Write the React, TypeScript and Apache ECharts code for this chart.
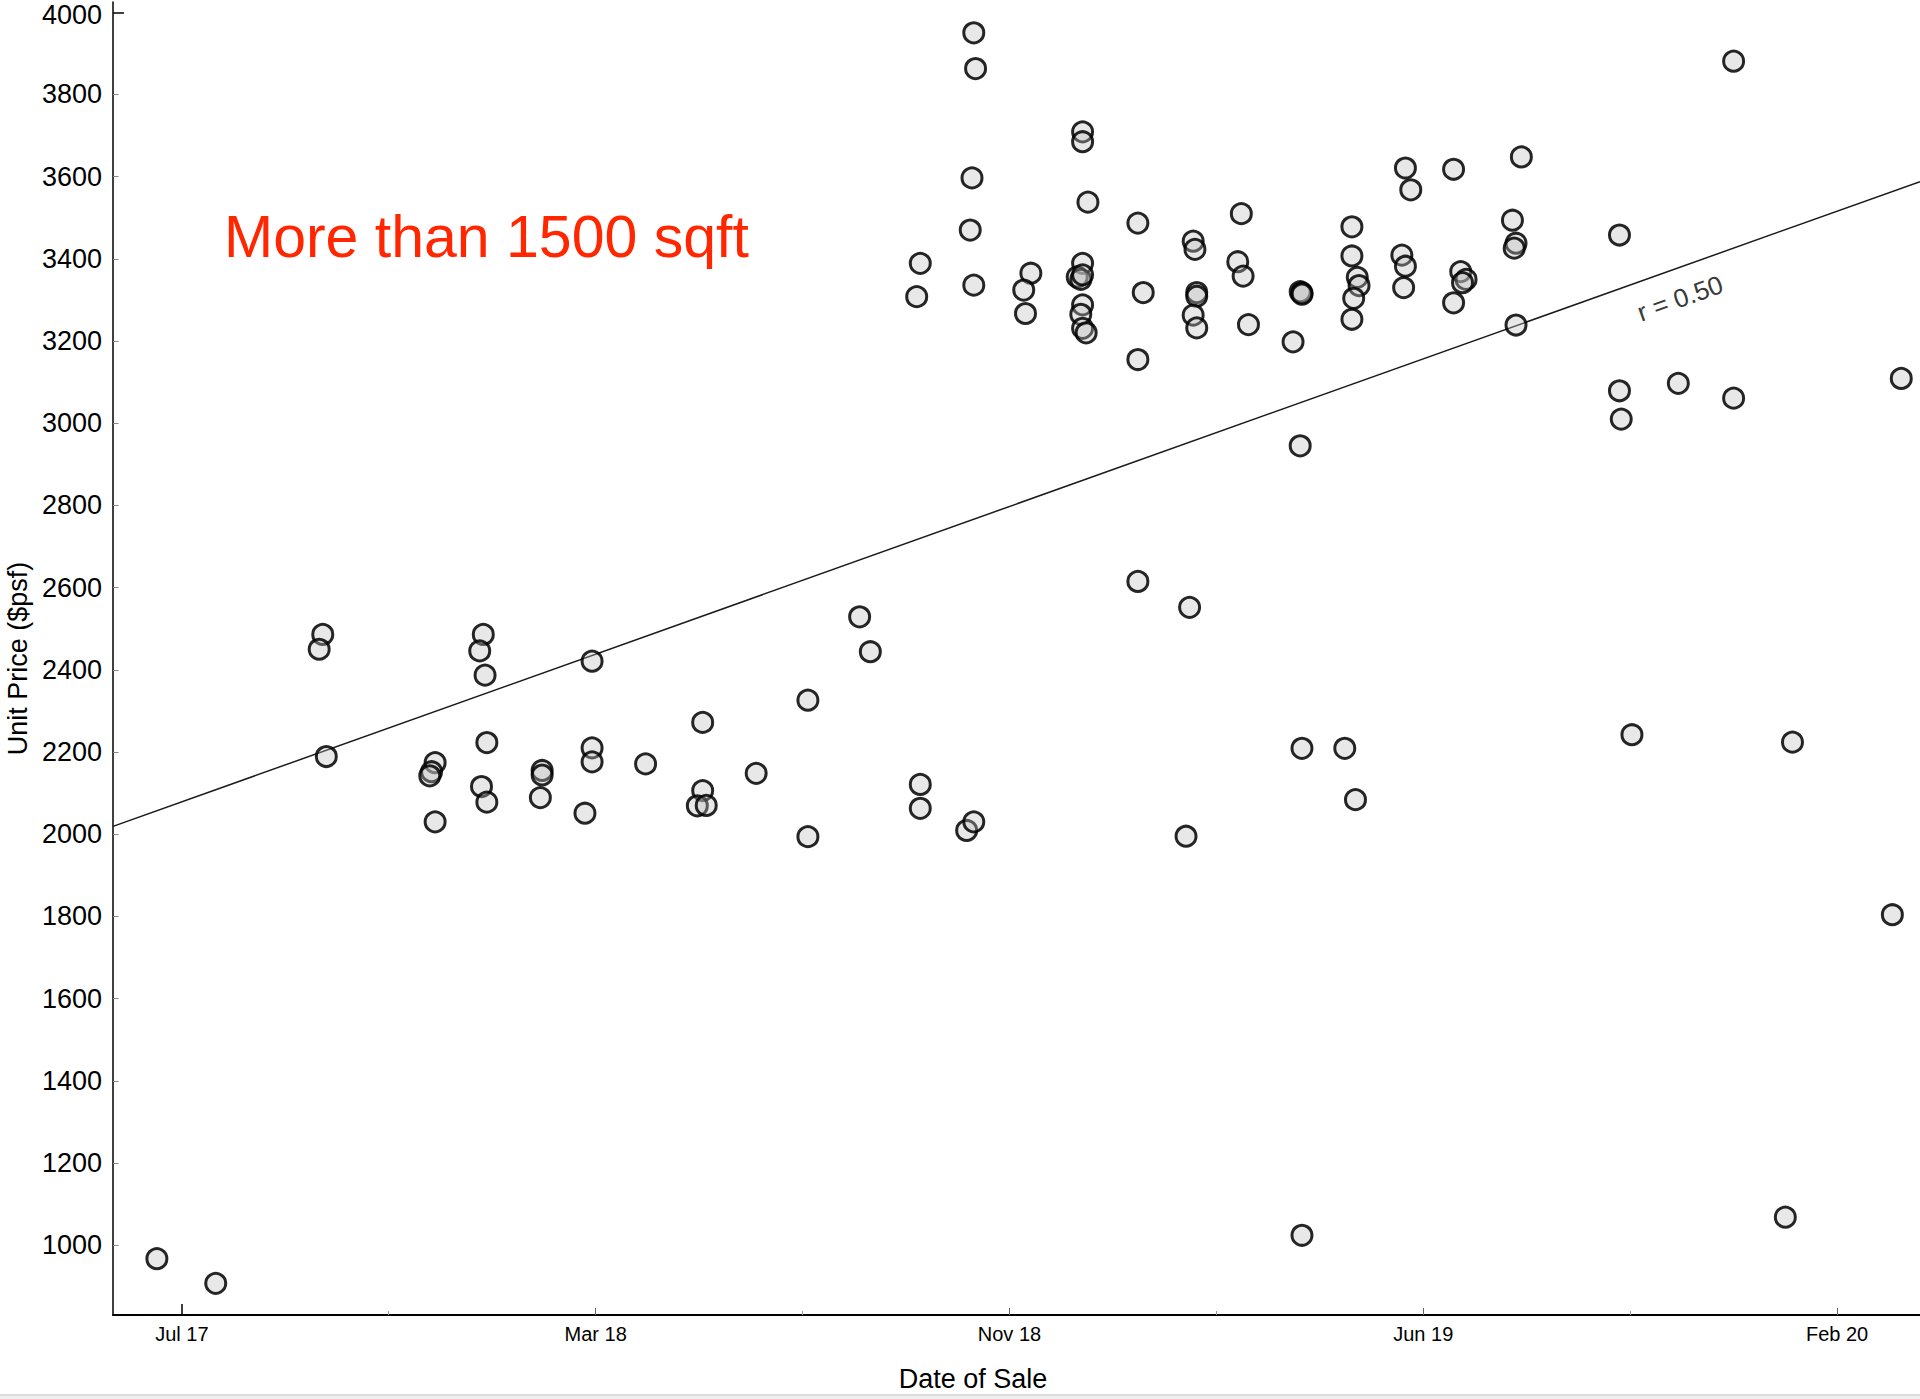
import React, { useEffect, useRef } from "react";
import * as echarts from "echarts";

// ---- Data ----
const saleDates: string[] = [
  "2017-07-14", "2017-08-16",
  "2017-10-15", "2017-10-13", "2017-10-17",
  "2017-12-17", "2017-12-15", "2017-12-14", "2017-12-17",
  "2018-01-13", "2018-01-11", "2018-01-14", "2018-01-15", "2018-01-12", "2018-01-15",
  "2018-02-15", "2018-02-15", "2018-02-14",
  "2018-03-11", "2018-03-15", "2018-03-15", "2018-03-15",
  "2018-04-14",
  "2018-05-16", "2018-05-16", "2018-05-13", "2018-05-18",
  "2018-06-15",
  "2018-07-14", "2018-07-14",
  "2018-08-12", "2018-08-18",
  "2018-09-15", "2018-09-13", "2018-09-15", "2018-09-15",
  "2018-10-11", "2018-10-15",
  "2018-10-15", "2018-10-16", "2018-10-14", "2018-10-13", "2018-10-15",
  "2018-11-16", "2018-11-12", "2018-11-13",
  "2018-12-15", "2018-12-15", "2018-12-18", "2018-12-15", "2018-12-12", "2018-12-14",
  "2018-12-15", "2018-12-15", "2018-12-14", "2018-12-15", "2018-12-17",
  "2019-01-15", "2019-01-18", "2019-01-15", "2019-01-15",
  "2019-02-15", "2019-02-16", "2019-02-17", "2019-02-17", "2019-02-15", "2019-02-17",
  "2019-02-13", "2019-02-11",
  "2019-03-14", "2019-03-12", "2019-03-15", "2019-03-18",
  "2019-04-12", "2019-04-16", "2019-04-17", "2019-04-17",
  "2019-04-16", "2019-04-17", "2019-04-17",
  "2019-05-15", "2019-05-15", "2019-05-18", "2019-05-19", "2019-05-16", "2019-05-15",
  "2019-05-11", "2019-05-17",
  "2019-06-14", "2019-06-17", "2019-06-12", "2019-06-14", "2019-06-13",
  "2019-07-11", "2019-07-15", "2019-07-18", "2019-07-16", "2019-07-11",
  "2019-08-18", "2019-08-13", "2019-08-15", "2019-08-14", "2019-08-15",
  "2019-10-12", "2019-10-12", "2019-10-13", "2019-10-19",
  "2019-11-14",
  "2019-12-15", "2019-12-15",
  "2020-01-17", "2020-01-13",
  "2020-03-18", "2020-03-13",
];

const unitPrices: number[] = [
  967, 907,
  2486, 2450, 2189,
  2174, 2152, 2142, 2030,
  2486, 2446, 2387, 2223, 2116, 2078,
  2155, 2144, 2089,
  2051, 2421, 2210, 2176,
  2171,
  2272, 2106, 2069, 2070,
  2148,
  2326, 1994,
  2529, 2444,
  3389, 3308, 2121, 2063,
  2009, 2030,
  3950, 3863, 3597, 3470, 3336,
  3365, 3324, 3267,
  3709, 3685, 3538, 3389, 3356, 3350,
  3361, 3288, 3265, 3231, 3220,
  3487, 3318, 3155, 2615,
  3443, 3423, 3318, 3309, 3263, 3232,
  2552, 1995,
  3510, 3393, 3358, 3240,
  3198, 3320, 3317, 3314,
  2945, 2209, 1024,
  3478, 3407, 3355, 3335, 3304, 3253,
  2209, 2084,
  3621, 3568, 3409, 3382, 3330,
  3618, 3369, 3350, 3342, 3293,
  3648, 3494, 3438, 3426, 3239,
  3458, 3079, 3010, 2242,
  3097,
  3881, 3061,
  2224, 1068,
  3109, 1804,
];

const majorTickDates = ["2017-07-28", "2018-03-17", "2018-11-04", "2019-06-24", "2020-02-11"];
const minorTickDates = ["2017-11-21", "2018-07-11", "2019-02-28", "2019-10-18"];
const priceTicks = [1000, 1200, 1400, 1600, 1800, 2000, 2200, 2400, 2600, 2800, 3000, 3200, 3400, 3600, 3800, 4000];
const dateRange = ["2017-06-19T09:36:00Z", "2020-03-28T12:00:00Z"];
const priceRange = [830, 4025];
const trendPrices = [2019, 3588];
const rLabelText = "r = 0.50";
const rLabelAt: [string, number] = ["2019-11-15", 3304];
const chartTitle = "More than 1500 sqft";
const xTitle = "Date of Sale";
const yTitle = "Unit Price ($psf)";
const MONTHS = ["Jan", "Feb", "Mar", "Apr", "May", "Jun", "Jul", "Aug", "Sep", "Oct", "Nov", "Dec"];

const FONT = '"Liberation Sans", Arial, Helvetica, sans-serif';

const toMs = (s: string) => new Date(s.length === 10 ? s + "T00:00:00Z" : s).getTime();
const fmtDate = (v: number) => {
  const d = new Date(v);
  return MONTHS[d.getUTCMonth()] + " " + String(d.getUTCFullYear()).slice(2);
};

export default function App() {
  const ref = useRef<HTMLDivElement>(null);

  useEffect(() => {
    if (!ref.current) return;
    const chart = echarts.init(ref.current, null, { renderer: "svg" });

    const xMin = toMs(dateRange[0]);
    const xMax = toMs(dateRange[1]);
    const majorMs = majorTickDates.map(toMs);
    const minorMs = minorTickDates.map(toMs);
    const points = saleDates.map((d, i) => [toMs(d), unitPrices[i]]);
    const trend = [
      [xMin, trendPrices[0]],
      [xMax, trendPrices[1]],
    ];
    const topTick = priceTicks[priceTicks.length - 1];

    const baseX = {
      type: "value",
      min: xMin,
      max: xMax,
      position: "bottom",
      splitLine: { show: false },
    };
    const baseY = {
      type: "value",
      min: priceRange[0],
      max: priceRange[1],
      position: "left",
      splitLine: { show: false },
    };

    const option: any = {
      animation: false,
      backgroundColor: "#ffffff",
      textStyle: { fontFamily: FONT },
      grid: { left: 113, right: 0, top: 2, bottom: 84, outerBoundsMode: "none" },
      xAxis: [
        {
          ...baseX,
          axisLine: { show: true, onZero: false, lineStyle: { color: "#000", width: 2 } },
          axisTick: {
            show: true,
            inside: true,
            length: 7,
            customValues: majorMs.slice(1),
            lineStyle: { color: "#666", width: 1 },
          },
          axisLabel: {
            show: true,
            customValues: majorMs,
            formatter: (v: number) => fmtDate(v),
            fontSize: 20,
            color: "#000",
            margin: 9,
            fontFamily: FONT,
          },
          name: xTitle,
          nameLocation: "middle",
          nameGap: 50,
          nameTextStyle: { fontSize: 27, color: "#000", fontFamily: FONT, padding: [0, 87, 0, 0] },
        },
        {
          ...baseX,
          axisLine: { show: false, onZero: false },
          axisTick: {
            show: true,
            inside: true,
            length: 4,
            customValues: minorMs,
            lineStyle: { color: "#999", width: 1 },
          },
          axisLabel: { show: false },
        },
        {
          ...baseX,
          axisLine: { show: false, onZero: false },
          axisTick: {
            show: true,
            inside: true,
            length: 11,
            customValues: majorMs.slice(0, 1),
            lineStyle: { color: "#000", width: 1.5 },
          },
          axisLabel: { show: false },
        },
      ],
      yAxis: [
        {
          ...baseY,
          axisLine: { show: true, onZero: false, lineStyle: { color: "#000", width: 1.5 } },
          axisTick: {
            show: true,
            inside: true,
            length: 5.5,
            customValues: priceTicks.slice(0, -1),
            lineStyle: { color: "#888", width: 1 },
          },
          axisLabel: {
            show: true,
            customValues: priceTicks,
            formatter: (v: number) => (v === topTick ? "{top|" + v + "}" : String(v)),
            rich: {
              top: { fontSize: 27, fontFamily: FONT, color: "#000", padding: [6, 0, 0, 0] },
            },
            fontSize: 27,
            lineHeight: 22,
            color: "#000",
            margin: 11,
            fontFamily: FONT,
          },
          name: yTitle,
          nameLocation: "middle",
          nameGap: 80,
          nameRotate: 90,
          nameTextStyle: { fontSize: 27, lineHeight: 26, color: "#000", fontFamily: FONT },
        },
        {
          ...baseY,
          axisLine: { show: false, onZero: false },
          axisTick: {
            show: true,
            inside: true,
            length: 11,
            customValues: priceTicks.slice(-1),
            lineStyle: { color: "#000", width: 1.5 },
          },
          axisLabel: { show: false },
        },
      ],
      series: [
        {
          type: "line",
          xAxisIndex: 0,
          yAxisIndex: 0,
          data: trend,
          symbol: "none",
          silent: true,
          lineStyle: { color: "#1a1a1a", width: 1.5 },
          z: 1,
        },
        {
          type: "scatter",
          xAxisIndex: 0,
          yAxisIndex: 0,
          data: points,
          symbol: "circle",
          symbolSize: 20,
          itemStyle: {
            color: "rgba(190,190,190,0.35)",
            borderColor: "rgba(0,0,0,0.85)",
            borderWidth: 3,
            opacity: 1,
          },
          emphasis: { disabled: true },
          z: 2,
        },
      ],
    };

    chart.setOption(option);

    const a = chart.convertToPixel({ seriesIndex: 1 }, [xMin, trendPrices[0]]) as number[];
    const b = chart.convertToPixel({ seriesIndex: 1 }, [xMax, trendPrices[1]]) as number[];
    const c = chart.convertToPixel({ seriesIndex: 1 }, [toMs(rLabelAt[0]), rLabelAt[1]]) as number[];
    const angle = Math.atan2(a[1] - b[1], b[0] - a[0]);

    chart.setOption({
      graphic: [
        {
          type: "text",
          id: "chartTitle",
          x: 224,
          y: 237,
          z: 10,
          style: {
            text: chartTitle,
            fontSize: 59,
            fontFamily: FONT,
            fill: "#ff2600",
            align: "left",
            textAlign: "left",
            verticalAlign: "middle",
            textVerticalAlign: "middle",
          },
        },
        {
          type: "text",
          id: "rLabel",
          x: c[0],
          y: c[1],
          rotation: angle,
          z: 10,
          style: {
            text: rLabelText,
            fontSize: 26,
            fontFamily: FONT,
            fill: "#3a3a3a",
            align: "center",
            textAlign: "center",
            verticalAlign: "middle",
            textVerticalAlign: "middle",
          },
        },
        {
          type: "rect",
          id: "bandDark",
          shape: { x: 0, y: 1394, width: 1920, height: 2 },
          style: { fill: "#dcdcdc" },
          silent: true,
        },
        {
          type: "rect",
          id: "bandLight",
          shape: { x: 0, y: 1396, width: 1920, height: 3 },
          style: { fill: "#efefef" },
          silent: true,
        },
      ],
    });

    return () => chart.dispose();
  }, []);

  return (
    <div
      ref={ref}
      style={{ position: "fixed", left: 0, top: 0, width: 1920, height: 1399, background: "#fff" }}
    />
  );
}
